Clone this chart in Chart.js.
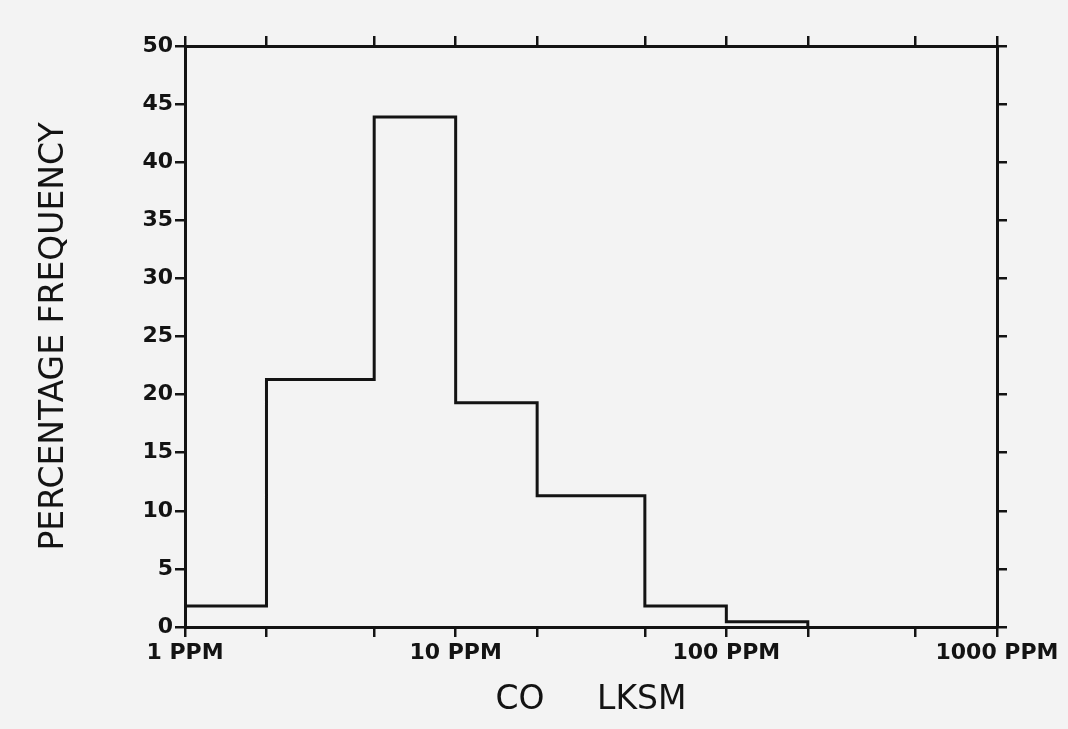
<!DOCTYPE html>
<html lang="en">
<head>
    <meta charset="UTF-8">
    <title>CO LKSM</title>
    <style>
        body {
            margin: 0;
            background-color: #f3f3f3;
        }
        canvas {
            display: block;
        }
    </style>
</head>
<body>
    <canvas id="coChart" width="1068" height="729"></canvas>

    <script src="https://cdn.jsdelivr.net/npm/chart.js"></script>
    <script>
        // bin edges (ppm) and percentage frequency for each bin
        const binEdges = [1, 2, 5, 10, 20, 50, 100, 200];
        const frequencies = [1.8, 21.3, 43.9, 19.3, 11.3, 1.8, 0.45];

        // x tick marks: decades get a label, the rest are plain marks
        const decadeTicks = [1, 10, 100, 1000];
        const decadeLabels = ['1 PPM', '10 PPM', '100 PPM', '1000 PPM'];
        const minorTicks = [2, 5, 20, 50, 200, 500];
        const yTicks = [0, 5, 10, 15, 20, 25, 30, 35, 40, 45, 50];

        const ink = '#131313';
        const xTickValues = decadeTicks.concat(minorTicks).sort((a, b) => a - b);

        // step outline: each point holds its value until the next edge
        const points = frequencies.map((f, i) => ({ x: binEdges[i], y: f }));
        points.push({ x: binEdges[binEdges.length - 1], y: 0 });

        const paper = {
            id: 'paper',
            beforeDraw(chart) {
                const c = chart.ctx;
                c.save();
                c.fillStyle = '#f3f3f3';
                c.fillRect(0, 0, chart.width, chart.height);
                c.restore();
            }
        };

        function setXTicks(scale) {
            scale.ticks = xTickValues.map(v => ({ value: v }));
        }
        function setYTicks(scale) {
            scale.ticks = yTicks.map(v => ({ value: v }));
        }

        const grid = {
            drawOnChartArea: false,
            drawTicks: true,
            tickLength: 10,
            color: ink,
            lineWidth: 2.5
        };
        const border = { display: true, color: ink, width: 3 };
        const tickFont = { family: 'DejaVu Sans', size: 22, weight: 'bold' };
        const titleFont = { family: 'DejaVu Sans', size: 33 };

        new Chart(document.getElementById('coChart'), {
            type: 'line',
            data: {
                datasets: [{
                    data: points,
                    stepped: 'before',
                    borderColor: ink,
                    borderWidth: 3,
                    pointRadius: 0,
                    fill: false
                }]
            },
            options: {
                responsive: false,
                animation: false,
                layout: { padding: 0 },
                plugins: {
                    legend: { display: false },
                    tooltip: { enabled: false }
                },
                scales: {
                    x: {
                        type: 'logarithmic',
                        position: 'bottom',
                        min: 1,
                        max: 1000,
                        afterBuildTicks: setXTicks,
                        afterFit(scale) { scale.height = 102; },
                        grid: grid,
                        border: border,
                        ticks: {
                            autoSkip: false,
                            maxRotation: 0,
                            padding: 3,
                            color: ink,
                            font: tickFont,
                            callback(value) {
                                const i = decadeTicks.indexOf(value);
                                return i >= 0 ? decadeLabels[i] : '';
                            }
                        },
                        title: {
                            display: true,
                            text: 'CO     LKSM',
                            color: ink,
                            font: titleFont,
                            padding: { top: 0, bottom: 9 }
                        }
                    },
                    xTop: {
                        type: 'logarithmic',
                        position: 'top',
                        min: 1,
                        max: 1000,
                        afterBuildTicks: setXTicks,
                        afterFit(scale) { scale.height = 46; },
                        grid: grid,
                        border: border,
                        ticks: { display: false }
                    },
                    y: {
                        type: 'linear',
                        position: 'left',
                        min: 0,
                        max: 50,
                        afterBuildTicks: setYTicks,
                        afterFit(scale) { scale.width = 185; },
                        grid: grid,
                        border: border,
                        ticks: {
                            padding: 2,
                            color: ink,
                            font: tickFont
                        },
                        title: {
                            display: true,
                            text: 'PERCENTAGE FREQUENCY',
                            color: ink,
                            font: titleFont,
                            padding: { top: 35, bottom: 0 }
                        }
                    },
                    yRight: {
                        type: 'linear',
                        position: 'right',
                        min: 0,
                        max: 50,
                        afterBuildTicks: setYTicks,
                        afterFit(scale) { scale.width = 71; },
                        grid: grid,
                        border: border,
                        ticks: { display: false }
                    }
                }
            },
            plugins: [paper]
        });
    </script>
</body>
</html>
